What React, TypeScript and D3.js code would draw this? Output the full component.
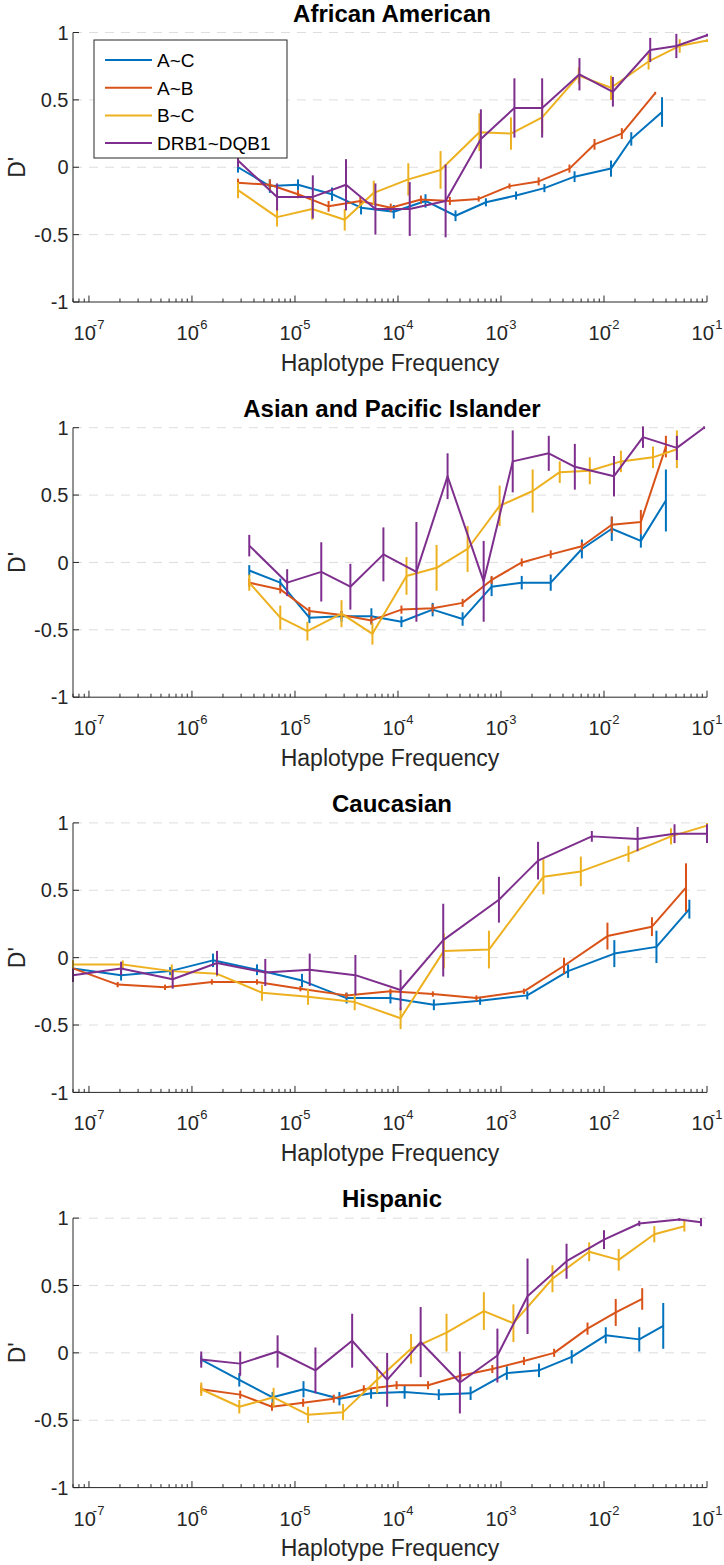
import React from "react";
import * as d3 from "d3";

// ---------- data ----------
const seriesNames = ["A~C", "A~B", "B~C", "DRB1~DQB1"];
const seriesColors = ["#0072BD", "#D95319", "#EDB120", "#7E2F8E"];
const panelTitles = ["African American", "Asian and Pacific Islander", "Caucasian", "Hispanic"];
const yTicks = [-1, -0.5, 0, 0.5, 1];
const yTickLabels = ["-1", "-0.5", "0", "0.5", "1"];
const xLabel = "Haplotype Frequency";
const yLabel = "D'";

// African American
const aaFreqAC = [2.8e-6, 5.7e-6, 1.07e-5, 2.29e-5, 4.38e-5, 9.1e-5, 1.85e-4, 3.62e-4, 7.14e-4, 1.4e-3, 2.64e-3, 5.18e-3, 1.17e-2, 1.84e-2, 3.66e-2];
const aaDAC = [0.0, -0.14, -0.13, -0.2, -0.3, -0.33, -0.25, -0.36, -0.26, -0.21, -0.155, -0.07, -0.01, 0.21, 0.41];
const aaErrAC = [0.04, 0.05, 0.04, 0.05, 0.05, 0.05, 0.05, 0.04, 0.03, 0.03, 0.03, 0.04, 0.06, 0.05, 0.11];
const aaFreqAB = [2.8e-6, 5.7e-6, 1.07e-5, 2.12e-5, 4.31e-5, 8.5e-5, 1.67e-4, 3.19e-4, 6.07e-4, 1.21e-3, 2.32e-3, 4.62e-3, 8.09e-3, 1.49e-2, 3.14e-2];
const aaDAB = [-0.115, -0.13, -0.2, -0.29, -0.25, -0.3, -0.24, -0.25, -0.235, -0.14, -0.105, -0.01, 0.17, 0.25, 0.55];
const aaErrAB = [0.03, 0.04, 0.03, 0.04, 0.03, 0.03, 0.03, 0.03, 0.02, 0.02, 0.03, 0.03, 0.04, 0.04, 0.01];
const aaFreqBC = [2.8e-6, 6.7e-6, 1.47e-5, 3.04e-5, 5.82e-5, 1.26e-4, 2.59e-4, 6.17e-4, 1.25e-3, 2.51e-3, 5.69e-3, 1.17e-2, 2.71e-2, 5.43e-2, 0.1];
const aaDBC = [-0.17, -0.37, -0.31, -0.39, -0.19, -0.09, -0.02, 0.26, 0.25, 0.37, 0.68, 0.59, 0.785, 0.9, 0.94];
const aaErrBC = [0.06, 0.07, 0.08, 0.08, 0.09, 0.12, 0.14, 0.14, 0.12, 0.12, 0.06, 0.09, 0.06, 0.05, 0.01];
const aaFreqDR = [2.8e-6, 6.7e-6, 1.49e-5, 3.13e-5, 6.04e-5, 1.3e-4, 2.9e-4, 6.38e-4, 1.35e-3, 2.51e-3, 5.78e-3, 1.22e-2, 2.81e-2, 5.04e-2, 0.1];
const aaDDR = [0.05, -0.22, -0.22, -0.13, -0.31, -0.31, -0.25, 0.21, 0.44, 0.44, 0.69, 0.56, 0.87, 0.9, 0.98];
const aaErrDR = [0.05, 0.1, 0.16, 0.19, 0.19, 0.2, 0.27, 0.22, 0.22, 0.22, 0.12, 0.11, 0.09, 0.09, 0.01];

// Asian and Pacific Islander
const apFreqAC = [3.6e-6, 7.2e-6, 1.38e-5, 2.83e-5, 5.52e-5, 1.08e-4, 2.17e-4, 4.24e-4, 8.11e-4, 1.59e-3, 3.04e-3, 6.1e-3, 1.19e-2, 2.28e-2, 3.99e-2];
const apDAC = [-0.06, -0.15, -0.41, -0.4, -0.4, -0.44, -0.35, -0.42, -0.18, -0.15, -0.15, 0.1, 0.25, 0.16, 0.46];
const apErrAC = [0.04, 0.03, 0.04, 0.04, 0.06, 0.04, 0.05, 0.05, 0.07, 0.05, 0.06, 0.07, 0.09, 0.05, 0.23];
const apFreqAB = [3.6e-6, 7.2e-6, 1.38e-5, 2.83e-5, 5.52e-5, 1.08e-4, 2.17e-4, 4.24e-4, 8.11e-4, 1.59e-3, 3.04e-3, 6.1e-3, 1.19e-2, 2.28e-2, 3.99e-2];
const apDAB = [-0.15, -0.2, -0.36, -0.39, -0.43, -0.35, -0.34, -0.3, -0.13, 0.0, 0.06, 0.12, 0.28, 0.3, 0.86];
const apErrAB = [0.03, 0.03, 0.03, 0.03, 0.03, 0.03, 0.03, 0.03, 0.03, 0.03, 0.03, 0.03, 0.06, 0.09, 0.08];
const apFreqBC = [3.6e-6, 7.2e-6, 1.32e-5, 2.83e-5, 5.65e-5, 1.21e-4, 2.37e-4, 4.74e-4, 9.7e-4, 2.03e-3, 3.72e-3, 7.28e-3, 1.46e-2, 2.99e-2, 5.1e-2];
const apDBC = [-0.15, -0.41, -0.51, -0.38, -0.53, -0.1, -0.04, 0.1, 0.42, 0.53, 0.67, 0.68, 0.75, 0.78, 0.84];
const apErrBC = [0.06, 0.09, 0.07, 0.1, 0.08, 0.14, 0.17, 0.17, 0.15, 0.16, 0.08, 0.1, 0.08, 0.08, 0.14];
const apFreqDR = [3.6e-6, 8.4e-6, 1.8e-5, 3.45e-5, 7.22e-5, 1.51e-4, 3.03e-4, 6.79e-4, 1.3e-3, 2.91e-3, 5.21e-3, 1.25e-2, 2.39e-2, 5.1e-2, 9.35e-2];
const apDDR = [0.125, -0.15, -0.07, -0.18, 0.06, -0.07, 0.64, -0.14, 0.75, 0.81, 0.71, 0.64, 0.93, 0.85, 1.0];
const apErrDR = [0.08, 0.1, 0.22, 0.17, 0.2, 0.37, 0.17, 0.3, 0.23, 0.13, 0.17, 0.15, 0.08, 0.09, 0.01];

// Caucasian
const caFreqAC = [7e-8, 2.05e-7, 6.14e-7, 1.6e-6, 4.28e-6, 1.17e-5, 3.17e-5, 8.45e-5, 2.23e-4, 6.27e-4, 1.8e-3, 4.48e-3, 1.26e-2, 3.23e-2, 6.74e-2];
const caDAC = [-0.08, -0.13, -0.1, -0.02, -0.09, -0.17, -0.3, -0.3, -0.35, -0.32, -0.28, -0.1, 0.03, 0.08, 0.36];
const caErrAC = [0.03, 0.04, 0.03, 0.05, 0.04, 0.05, 0.04, 0.04, 0.04, 0.03, 0.03, 0.05, 0.1, 0.12, 0.07];
const caFreqAB = [7e-8, 1.9e-7, 5.48e-7, 1.56e-6, 4.28e-6, 1.13e-5, 3.15e-5, 8.45e-5, 2.18e-4, 5.77e-4, 1.67e-3, 4.09e-3, 1.08e-2, 2.92e-2, 6.25e-2];
const caDAB = [-0.08, -0.2, -0.22, -0.18, -0.18, -0.23, -0.28, -0.25, -0.27, -0.3, -0.25, -0.06, 0.16, 0.23, 0.52];
const caErrAB = [0.02, 0.02, 0.02, 0.02, 0.02, 0.02, 0.02, 0.02, 0.02, 0.02, 0.02, 0.06, 0.1, 0.07, 0.18];
const caFreqBC = [7e-8, 2.13e-7, 6.37e-7, 1.75e-6, 4.78e-6, 1.34e-5, 3.8e-5, 1.06e-4, 2.79e-4, 7.64e-4, 2.58e-3, 5.96e-3, 1.73e-2, 4.47e-2, 0.1];
const caDBC = [-0.05, -0.05, -0.1, -0.12, -0.26, -0.29, -0.33, -0.45, 0.05, 0.06, 0.6, 0.64, 0.77, 0.9, 0.98];
const caErrBC = [0.03, 0.03, 0.05, 0.02, 0.06, 0.06, 0.06, 0.08, 0.13, 0.14, 0.13, 0.11, 0.06, 0.06, 0.02];
const caFreqDR = [7e-8, 2.05e-7, 6.5e-7, 1.75e-6, 5.15e-6, 1.39e-5, 3.86e-5, 1.06e-4, 2.75e-4, 9.55e-4, 2.29e-3, 7.62e-3, 2.12e-2, 4.84e-2, 0.1];
const caDDR = [-0.13, -0.08, -0.16, -0.04, -0.11, -0.09, -0.13, -0.24, 0.13, 0.43, 0.72, 0.9, 0.88, 0.92, 0.92];
const caErrDR = [0.05, 0.05, 0.07, 0.09, 0.1, 0.12, 0.15, 0.15, 0.27, 0.17, 0.14, 0.04, 0.09, 0.07, 0.07];

// Hispanic
const hiFreqAC = [1.23e-6, 2.88e-6, 6.06e-6, 1.21e-5, 2.7e-5, 5.48e-5, 1.16e-4, 2.49e-4, 5.07e-4, 1.14e-3, 2.34e-3, 4.86e-3, 1.04e-2, 2.2e-2, 3.76e-2];
const hiDAC = [-0.05, -0.2, -0.33, -0.27, -0.34, -0.3, -0.29, -0.31, -0.3, -0.15, -0.13, -0.03, 0.13, 0.1, 0.2];
const hiErrAC = [0.03, 0.05, 0.04, 0.06, 0.05, 0.04, 0.05, 0.04, 0.05, 0.05, 0.05, 0.05, 0.06, 0.09, 0.17];
const hiFreqAB = [1.23e-6, 2.94e-6, 5.98e-6, 1.2e-5, 2.38e-5, 4.66e-5, 9.7e-5, 1.96e-4, 4.05e-4, 8.24e-4, 1.67e-3, 3.28e-3, 6.92e-3, 1.3e-2, 2.35e-2];
const hiDAB = [-0.27, -0.31, -0.4, -0.37, -0.34, -0.27, -0.24, -0.24, -0.17, -0.12, -0.06, 0.0, 0.18, 0.3, 0.4];
const hiErrAB = [0.03, 0.03, 0.03, 0.03, 0.03, 0.03, 0.03, 0.03, 0.03, 0.03, 0.03, 0.03, 0.045, 0.1, 0.08];
const hiFreqBC = [1.23e-6, 2.88e-6, 6.2e-6, 1.34e-5, 2.93e-5, 6.28e-5, 1.34e-4, 2.96e-4, 6.82e-4, 1.32e-3, 3.16e-3, 7.18e-3, 1.39e-2, 3.08e-2, 6.03e-2];
const hiDBC = [-0.27, -0.4, -0.33, -0.46, -0.44, -0.2, 0.03, 0.15, 0.31, 0.22, 0.55, 0.75, 0.69, 0.88, 0.94];
const hiErrBC = [0.05, 0.05, 0.07, 0.06, 0.06, 0.1, 0.11, 0.14, 0.14, 0.14, 0.1, 0.07, 0.08, 0.06, 0.04];
const hiFreqDR = [1.23e-6, 2.94e-6, 6.78e-6, 1.58e-5, 3.59e-5, 7.85e-5, 1.66e-4, 3.99e-4, 9.23e-4, 1.81e-3, 4.33e-3, 1.0e-2, 2.2e-2, 5.38e-2, 8.75e-2];
const hiDDR = [-0.05, -0.08, 0.01, -0.13, 0.09, -0.2, 0.08, -0.22, -0.02, 0.42, 0.68, 0.84, 0.96, 0.99, 0.97];
const hiErrDR = [0.06, 0.09, 0.12, 0.17, 0.2, 0.2, 0.26, 0.23, 0.2, 0.28, 0.13, 0.07, 0.02, 0.01, 0.03];

const panels = [
  { title: panelTitles[0], series: [[aaFreqAC, aaDAC, aaErrAC], [aaFreqAB, aaDAB, aaErrAB], [aaFreqBC, aaDBC, aaErrBC], [aaFreqDR, aaDDR, aaErrDR]], legend: true },
  { title: panelTitles[1], series: [[apFreqAC, apDAC, apErrAC], [apFreqAB, apDAB, apErrAB], [apFreqBC, apDBC, apErrBC], [apFreqDR, apDDR, apErrDR]], legend: false },
  { title: panelTitles[2], series: [[caFreqAC, caDAC, caErrAC], [caFreqAB, caDAB, caErrAB], [caFreqBC, caDBC, caErrBC], [caFreqDR, caDDR, caErrDR]], legend: false },
  { title: panelTitles[3], series: [[hiFreqAC, hiDAC, hiErrAC], [hiFreqAB, hiDAB, hiErrAB], [hiFreqBC, hiDBC, hiErrBC], [hiFreqDR, hiDDR, hiErrDR]], legend: false },
];

// ---------- layout ----------
const W = 724;
const H = 1565;
const LEFT = 73;
const RIGHT = 707;
const TOP0 = 32.5;
const STEP = 395.2;
const PLOT_H = 269.5;
const FONT = "'Liberation Sans', Arial, Helvetica, sans-serif";
const AXIS = "#262626";

const x = d3.scaleLog().domain([7e-8, 0.1]).range([LEFT, RIGHT]);
const xTickVals = x.ticks();
const isMajor = (t: number) => Math.abs(Math.log10(t) - Math.round(Math.log10(t))) < 1e-6;

function Panel({ p, idx }: { p: any; idx: number }) {
  const top = TOP0 + idx * STEP;
  const bottom = top + PLOT_H;
  const y = d3.scaleLinear().domain([-1, 1]).range([bottom, top]);
  const line = d3
    .line<[number, number]>()
    .x((d) => x(d[0]))
    .y((d) => y(d[1]));
  const midX = (LEFT + RIGHT) / 2;
  return (
    <g>
      {/* grid */}
      {yTicks.filter((t) => t > -1).map((t) => (
        <line key={"g" + t} x1={LEFT} x2={RIGHT} y1={y(t)} y2={y(t)} stroke="#dedede" strokeWidth={1} strokeDasharray="9,7" />
      ))}
      {/* series */}
      {p.series.map((s: number[][], si: number) => {
        const pts: [number, number][] = s[0].map((f, i) => [f, s[1][i]]);
        return (
          <g key={"s" + si}>
            <path d={line(pts) || ""} fill="none" stroke={seriesColors[si]} strokeWidth={2} strokeLinejoin="round" />
            {pts.map((d, i) => (
              <line key={i} x1={x(d[0])} x2={x(d[0])} y1={y(d[1] - s[2][i])} y2={y(d[1] + s[2][i])} stroke={seriesColors[si]} strokeWidth={2} />
            ))}
          </g>
        );
      })}
      {/* axes */}
      <line x1={LEFT} x2={LEFT} y1={top} y2={bottom} stroke={AXIS} strokeWidth={1} />
      <line x1={LEFT} x2={RIGHT} y1={bottom} y2={bottom} stroke={AXIS} strokeWidth={1} />
      {yTicks.map((t, i) => (
        <g key={"yt" + t}>
          <line x1={LEFT} x2={LEFT + 6} y1={y(t)} y2={y(t)} stroke={AXIS} strokeWidth={1} />
          <text x={68.5} y={y(t)} dy="0.36em" textAnchor="end" fontSize={20} fill={AXIS} fontFamily={FONT}>
            {yTickLabels[i]}
          </text>
        </g>
      ))}
      {xTickVals.map((t, i) => (
        <line key={"xt" + i} x1={x(t)} x2={x(t)} y1={bottom} y2={bottom - (isMajor(t) ? 6.5 : 3.5)} stroke={AXIS} strokeWidth={1} />
      ))}
      {xTickVals.filter(isMajor).map((t) => {
        const e = Math.round(Math.log10(t));
        return (
          <text key={"xl" + e} x={x(t)} y={bottom + 38} textAnchor="middle" fontSize={20} fill={AXIS} fontFamily={FONT}>
            10
            <tspan dx={-3} dy={-11} fontSize={13}>{String(e)}</tspan>
          </text>
        );
      })}
      <text x={midX} y={bottom + 68.7} textAnchor="middle" fontSize={23} fill={AXIS} fontFamily={FONT}>
        {xLabel}
      </text>
      <text transform={`translate(25,${y(0)}) rotate(-90)`} textAnchor="middle" fontSize={23} fill={AXIS} fontFamily={FONT}>
        {yLabel}
      </text>
      <text x={midX + 2} y={top - 11} textAnchor="middle" fontSize={24} fontWeight="bold" fill="#000" fontFamily={FONT}>
        {p.title}
      </text>
      {p.legend && (
        <g>
          <rect x={94} y={40} width={193} height={118} fill="#fff" stroke={AXIS} strokeWidth={1} />
          {seriesNames.map((n, i) => (
            <g key={n}>
              <line x1={105} x2={152} y1={60 + i * 27.7} y2={60 + i * 27.7} stroke={seriesColors[i]} strokeWidth={2} />
              <text x={157} y={60 + i * 27.7} dy="0.36em" fontSize={19} fill="#000" fontFamily={FONT}>
                {n}
              </text>
            </g>
          ))}
        </g>
      )}
    </g>
  );
}

export default function App() {
  return (
    <svg width={W} height={H} style={{ position: "absolute", left: 0, top: 0, background: "#fff" }}>
      <rect width={W} height={H} fill="#fff" />
      {panels.map((p, i) => (
        <Panel key={i} p={p} idx={i} />
      ))}
    </svg>
  );
}
